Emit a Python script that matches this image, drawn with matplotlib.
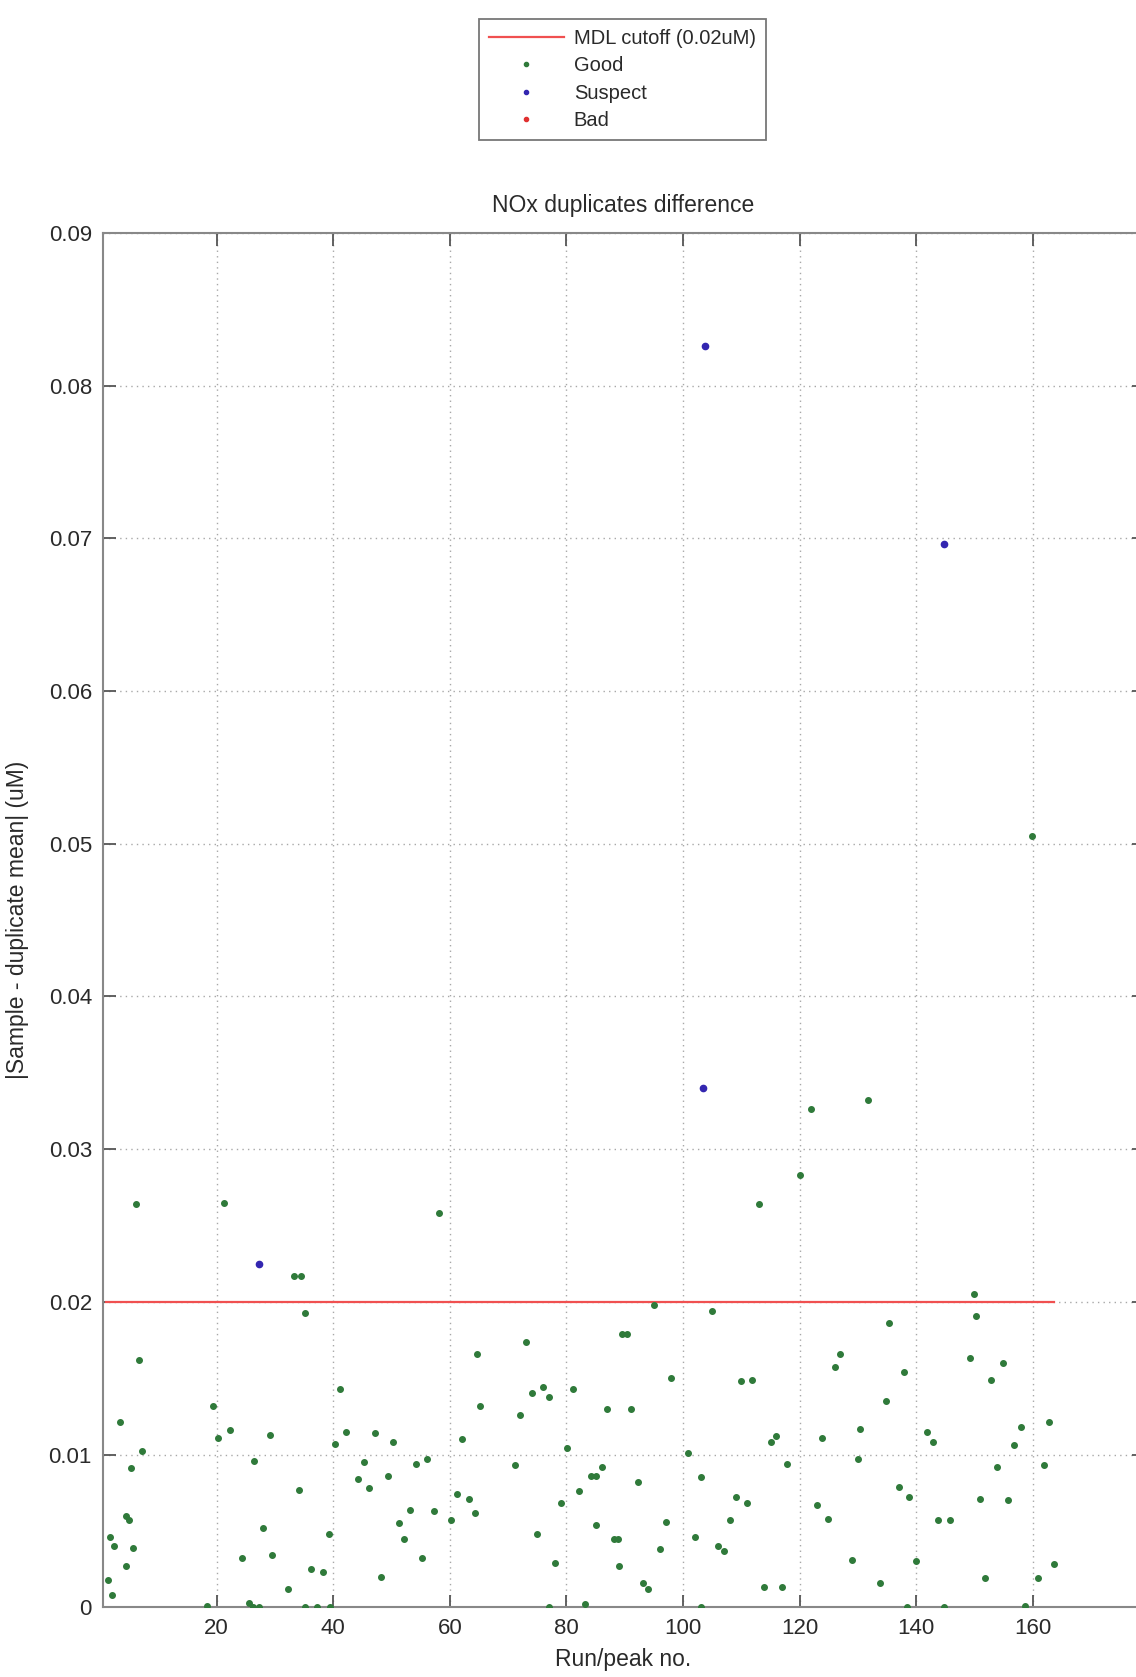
import matplotlib
matplotlib.use("Agg")
import matplotlib.pyplot as plt
from matplotlib.lines import Line2D

# values
good_run = [1.4, 1.7, 2.0, 2.4, 3.4, 4.4, 4.5, 4.9, 5.3, 5.6, 6.2, 6.6, 7.2,
            18.3, 19.3, 20.3, 21.3, 22.2, 24.3, 25.5, 26.2, 26.4, 27.3, 28.0, 29.2, 29.5,
            32.2, 33.2, 34.2, 34.4, 35.1, 35.2, 36.2, 37.2, 38.2, 39.2, 39.4, 40.3, 41.2,
            42.1, 44.2, 45.2, 46.2, 47.2, 48.2, 49.3, 50.3, 51.2, 52.1, 53.2, 54.2, 55.2,
            56.0, 57.2, 58.2, 60.2, 61.2, 62.1, 63.2, 64.3, 64.6, 65.1, 71.2, 72.1, 73.1,
            74.1, 75.0, 75.9, 77.0, 77.0, 78.1, 79.0, 80.1, 81.2, 82.2, 83.1, 84.2, 85.0,
            85.1, 86.1, 87.0, 88.1, 88.9, 89.0, 89.5, 90.3, 91.0, 92.2, 93.1, 93.9, 95.0,
            96.1, 97.0, 98.0, 100.9, 102.0, 103.0, 103.0, 105.0, 106.0, 107.0, 108.0,
            109.0, 109.9, 111.0, 111.9, 113.0, 113.9, 115.0, 116.0, 117.0, 117.9, 120.0,
            121.9, 122.9, 123.9, 124.9, 126.0, 127.0, 128.9, 130.0, 130.3, 131.8, 133.8,
            134.8, 135.4, 137.0, 137.9, 138.4, 138.8, 140.0, 141.8, 142.9, 143.8, 144.8,
            145.8, 149.3, 149.9, 150.3, 150.9, 151.8, 152.8, 153.9, 154.8, 155.8, 156.7,
            157.9, 158.7, 159.9, 160.9, 161.9, 162.8, 163.6]
good_diff = [0.0018, 0.0046, 0.0008, 0.0040, 0.0121, 0.0060, 0.0027, 0.0057, 0.0091, 0.0039,
             0.0264, 0.0162, 0.0102,
             0.0001, 0.0132, 0.0111, 0.0265, 0.0116, 0.0032, 0.0003, 0.0, 0.0096, 0.0, 0.0052,
             0.0113, 0.0034, 0.0012, 0.0217, 0.0077, 0.0217, 0.0, 0.0193, 0.0025, 0.0, 0.0023,
             0.0048, 0.0, 0.0107, 0.0143, 0.0115, 0.0084, 0.0095, 0.0078, 0.0114, 0.0020,
             0.0086, 0.0108, 0.0055, 0.0045, 0.0064, 0.0094, 0.0032, 0.0097, 0.0063, 0.0258,
             0.0057, 0.0074, 0.0110, 0.0071, 0.0062, 0.0166, 0.0132, 0.0093, 0.0126, 0.0174,
             0.0140, 0.0048, 0.0144, 0.0138, 0.0, 0.0029, 0.0068, 0.0104, 0.0143, 0.0076,
             0.0002, 0.0086, 0.0086, 0.0054, 0.0092, 0.0130, 0.0045, 0.0045, 0.0027, 0.0179,
             0.0179, 0.0130, 0.0082, 0.0016, 0.0012, 0.0198, 0.0038, 0.0056, 0.0150, 0.0101,
             0.0046, 0.0085, 0.0, 0.0194, 0.0040, 0.0037, 0.0057, 0.0072, 0.0148, 0.0068,
             0.0149, 0.0264, 0.0013, 0.0108, 0.0112, 0.0013, 0.0094, 0.0283, 0.0326, 0.0067,
             0.0111, 0.0058, 0.0157, 0.0166, 0.0031, 0.0097, 0.0117, 0.0332, 0.0016, 0.0135,
             0.0186, 0.0079, 0.0154, 0.0, 0.0072, 0.0030, 0.0115, 0.0108, 0.0057, 0.0, 0.0057,
             0.0163, 0.0205, 0.0191, 0.0071, 0.0019, 0.0149, 0.0092, 0.0160, 0.0070, 0.0106,
             0.0118, 0.0001, 0.0505, 0.0019, 0.0093, 0.0121, 0.0028]

suspect_run = [27.2, 103.4, 103.8, 144.7]
suspect_diff = [0.0225, 0.0340, 0.0826, 0.0696]

bad_run = []
bad_diff = []

mdl_cutoff = 0.02
run_range = [1, 163.6]

x_ticks = [20, 40, 60, 80, 100, 120, 140, 160]
y_ticks = [0, 0.01, 0.02, 0.03, 0.04, 0.05, 0.06, 0.07, 0.08, 0.09]
y_tick_labels = ["0", "0.01", "0.02", "0.03", "0.04", "0.05", "0.06", "0.07", "0.08", "0.09"]

plt.rcParams["font.family"] = ["Liberation Sans", "DejaVu Sans"]

fig = plt.figure(figsize=(11.36, 16.77), dpi=100)
ax = fig.add_axes([0.0907, 0.0416, 0.9160, 0.8195])

good_color = "#2f7a3a"
suspect_color = "#3326b0"
bad_color = "#e03030"
line_color = "#f05050"

ax.plot(run_range, [mdl_cutoff, mdl_cutoff], color=line_color, linewidth=1.6, zorder=2)
ax.plot(good_run, good_diff, linestyle="none", marker=".", markersize=8,
        color=good_color, zorder=3)
ax.plot(suspect_run, suspect_diff, linestyle="none", marker=".", markersize=9,
        color=suspect_color, zorder=3)
ax.plot(bad_run, bad_diff, linestyle="none", marker=".", markersize=8,
        color=bad_color, zorder=3)

ax.set_xlim(0.5, 179)
ax.set_ylim(0, 0.09)
ax.set_xticks(x_ticks)
ax.set_xticklabels([str(t) for t in x_ticks])
ax.set_yticks(y_ticks)
ax.set_yticklabels(y_tick_labels)

ax.grid(True, linestyle=(0, (1, 3)), color="#a8a8a8", linewidth=1.0)
ax.set_axisbelow(True)
for spine in ax.spines.values():
    spine.set_color("#888888")
    spine.set_linewidth(1.5)
ax.tick_params(direction="in", length=9, width=1.3, color="#555555",
               top=True, right=True, labelsize=16, labelcolor="#2a2a2a", pad=8)

ax.set_title("NOx duplicates difference", fontsize=16.5, color="#2a2a2a", pad=15)
ax.set_xlabel("Run/peak no.", fontsize=16.5, color="#2a2a2a", labelpad=6)
ax.set_ylabel("|Sample - duplicate mean| (uM)", fontsize=16.5, color="#2a2a2a", labelpad=14)

handles = [
    Line2D([], [], color=line_color, linewidth=1.6),
    Line2D([], [], linestyle="none", marker=".", markersize=6, color=good_color),
    Line2D([], [], linestyle="none", marker=".", markersize=6, color=suspect_color),
    Line2D([], [], linestyle="none", marker=".", markersize=6, color=bad_color),
]
labels = ["MDL cutoff (0.02uM)", "Good", "Suspect", "Bad"]
legend = fig.legend(handles, labels, loc="upper center", bbox_to_anchor=(0.548, 0.9887),
                    fontsize=14.5, frameon=True, fancybox=False, handlelength=3.7,
                    handletextpad=0.5, labelspacing=0.42, borderpad=0.5,
                    borderaxespad=0.0)
legend.get_frame().set_edgecolor("#555555")
legend.get_frame().set_linewidth(1.3)
for text in legend.get_texts():
    text.set_color("#2a2a2a")

fig.savefig("out.png", dpi=100)
plt.close(fig)
